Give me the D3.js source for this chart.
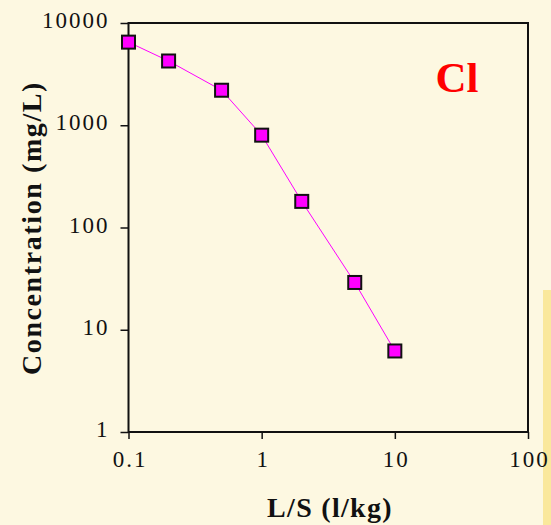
<!DOCTYPE html>
<html>
<head>
<meta charset="utf-8">
<script src="https://cdn.jsdelivr.net/npm/d3@7"></script>
<style>
  html, body { margin: 0; padding: 0; background: #fdf8e1; }
  svg { display: block; }
  text { font-family: "Liberation Serif", "Times New Roman", serif; }
</style>
</head>
<body>
<div id="chart"></div>
<script>
var width = 551,
    height = 525;

// data
var lsRatio = [0.1, 0.2, 0.5, 1, 2, 5, 10];
var chloride = [6500, 4250, 2200, 800, 180, 29, 6.2];
var xTicks = [0.1, 1, 10, 100];
var yTicks = [1, 10, 100, 1000, 10000];

var margin = {left: 128.5, right: 23, top: 23, bottom: 93};

var svg = d3.select('#chart').append('svg')
    .attr('width', width)
    .attr('height', height);

svg.append('rect')
    .attr('width', width).attr('height', height)
    .attr('fill', '#fdf8e1');

// yellow panel edge at the right
svg.append('rect')
    .attr('x', 543).attr('y', 290)
    .attr('width', 8).attr('height', 235)
    .attr('fill', '#fae89c');

var x = d3.scaleLog().domain([0.1, 100]).range([margin.left, width - margin.right]);
var y = d3.scaleLog().domain([1, 10000]).range([height - margin.bottom, margin.top]);

// y axis
var yAxis = svg.append('g')
    .attr('transform', 'translate(' + margin.left + ',0)')
    .call(d3.axisLeft(y).tickValues(yTicks).tickFormat(d3.format('d')).tickSize(8).tickPadding(11));
yAxis.select('.domain').remove();
yAxis.selectAll('line').attr('stroke', '#111').attr('stroke-width', 1.5);
yAxis.selectAll('text')
    .attr('fill', '#111')
    .attr('dy', '0.2em')
    .style('font-size', '23px')
    .style('letter-spacing', '2px');

// x axis
var xAxis = svg.append('g')
    .attr('transform', 'translate(0,' + (height - margin.bottom) + ')')
    .call(d3.axisBottom(x).tickValues(xTicks).tickFormat(function(d){ return String(d); }).tickSize(7).tickPadding(19));
xAxis.select('.domain').remove();
xAxis.selectAll('line').attr('stroke', '#111').attr('stroke-width', 1.5);
xAxis.selectAll('text')
    .attr('fill', '#111')
    .attr('dx', '1px')
    .attr('dy', '0.4em')
    .style('font-size', '23px')
    .style('letter-spacing', '2px');

// plot frame
svg.append('rect')
    .attr('x', x(0.1)).attr('y', y(10000))
    .attr('width', x(100) - x(0.1))
    .attr('height', y(1) - y(10000))
    .attr('fill', 'none')
    .attr('stroke', '#111')
    .attr('stroke-width', 2);

// series
var line = d3.line()
    .x(function(d, i){ return x(lsRatio[i]); })
    .y(function(d){ return y(d); });

svg.append('path')
    .datum(chloride)
    .attr('d', line)
    .attr('fill', 'none')
    .attr('stroke', '#ff00ff')
    .attr('stroke-width', 1);

svg.selectAll('.pt')
    .data(chloride)
    .enter().append('rect')
    .attr('class', 'pt')
    .attr('x', function(d, i){ return x(lsRatio[i]) - 6.5; })
    .attr('y', function(d){ return y(d) - 6.5; })
    .attr('width', 13).attr('height', 13)
    .attr('fill', '#ff00ff')
    .attr('stroke', '#111')
    .attr('stroke-width', 2);

// titles
svg.append('text')
    .attr('x', 330).attr('y', 517)
    .attr('text-anchor', 'middle')
    .style('font-size', '28px')
    .style('font-weight', 'bold')
    .style('letter-spacing', '1.3px')
    .attr('fill', '#111')
    .text('L/S (l/kg)');

svg.append('text')
    .attr('transform', 'translate(41,228) rotate(-90)')
    .attr('text-anchor', 'middle')
    .style('font-size', '28px')
    .style('font-weight', 'bold')
    .style('letter-spacing', '1.6px')
    .attr('fill', '#111')
    .text('Concentration (mg/L)');

svg.append('text')
    .attr('x', 457).attr('y', 92)
    .attr('text-anchor', 'middle')
    .style('font-size', '43px')
    .style('font-weight', 'bold')
    .attr('fill', '#ff0000')
    .text('Cl');
</script>
</body>
</html>
